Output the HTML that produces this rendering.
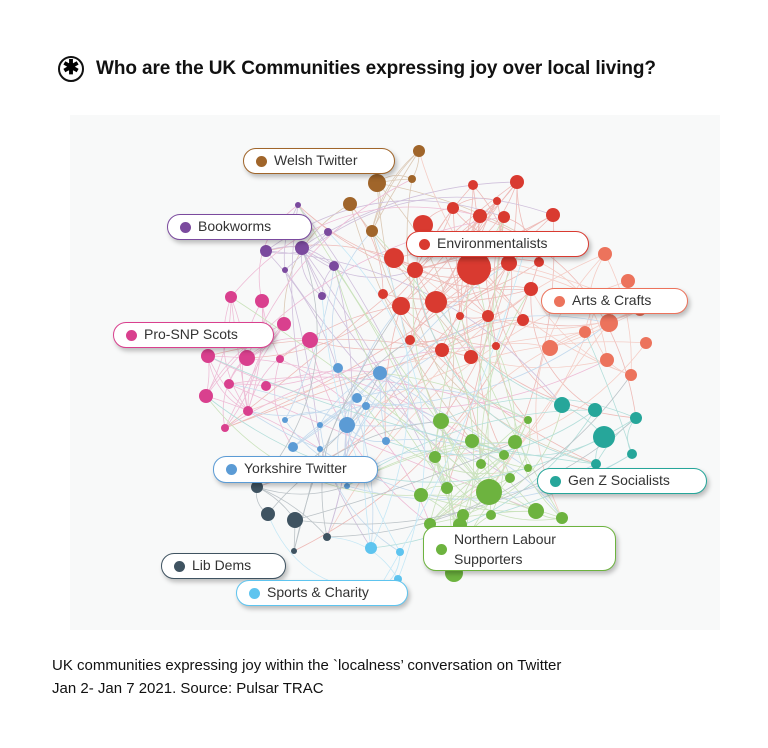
<!DOCTYPE html>
<html><head><meta charset="utf-8"><style>
body{margin:0;width:768px;height:748px;background:#fff;position:relative;overflow:hidden;font-family:"Liberation Sans",sans-serif}
.t{position:absolute;left:96px;top:58px;font-size:19px;font-weight:bold;color:#111;letter-spacing:-0.1px}
.c{position:absolute;left:52px;font-size:15px;color:#111}
.lb{position:absolute;background:#fff;border:1.5px solid;border-radius:13px;box-shadow:2px 3px 5px rgba(0,0,0,.25);font-size:14px;color:#333;box-sizing:border-box;padding-left:30px;line-height:23px}
.lb i{position:absolute;left:12px;top:7px;width:11px;height:11px;border-radius:50%}
</style></head><body>
<div style="position:absolute;left:58px;top:56px;width:26px;height:26px;border:2.5px solid #111;border-radius:50%;box-sizing:border-box;text-align:center;font-size:20px;line-height:21px;font-weight:bold">✱</div>
<div class="t">Who are the UK Communities expressing joy over local living?</div>
<svg id="s" width="768" height="748" style="position:absolute;left:0;top:0">
<rect x="70" y="115" width="650" height="515" fill="#f8f9f9"/>
<g id="e" fill="none" stroke-width="0.8" opacity="0.32"></g>
<g id="n"></g>
</svg>
<div class="lb" style="left:243px;top:148px;width:152px;height:26px;border-color:#a0652a"><i style="background:#a0652a"></i>Welsh Twitter</div>
<div class="lb" style="left:167px;top:214px;width:145px;height:26px;border-color:#7b4a9e"><i style="background:#7b4a9e"></i>Bookworms</div>
<div class="lb" style="left:406px;top:231px;width:183px;height:26px;border-color:#d93a30"><i style="background:#d93a30"></i>Environmentalists</div>
<div class="lb" style="left:541px;top:288px;width:147px;height:26px;border-color:#ec735c"><i style="background:#ec735c"></i>Arts &amp; Crafts</div>
<div class="lb" style="left:113px;top:322px;width:161px;height:26px;border-color:#d9408e"><i style="background:#d9408e"></i>Pro-SNP Scots</div>
<div class="lb" style="left:213px;top:456px;width:165px;height:27px;border-color:#5b9bd5"><i style="background:#5b9bd5"></i>Yorkshire Twitter</div>
<div class="lb" style="left:537px;top:468px;width:170px;height:26px;border-color:#26a69a"><i style="background:#26a69a"></i>Gen Z Socialists</div>
<div class="lb" style="left:423px;top:526px;width:193px;height:45px;border-color:#6db33f;line-height:20px;padding-top:2px"><i style="background:#6db33f;top:17px"></i>Northern Labour<br>Supporters</div>
<div class="lb" style="left:161px;top:553px;width:125px;height:26px;border-color:#3f5361"><i style="background:#3f5361"></i>Lib Dems</div>
<div class="lb" style="left:236px;top:580px;width:172px;height:26px;border-color:#5ec4ef"><i style="background:#5ec4ef"></i>Sports &amp; Charity</div>
<div class="c" style="top:657px">UK communities expressing joy within the `localness’ conversation on Twitter</div>
<div class="c" style="top:680px">Jan 2- Jan 7 2021. Source: Pulsar TRAC</div>
<script>
var G={"#a0652a":[[419,151,6],[377,183,9],[350,204,7],[372,231,6],[412,179,4]],
"#d93a30":[[474,268,17],[436,302,11],[401,306,9],[394,258,10],[423,225,10],[415,270,8],[442,350,7],[471,357,7],[480,216,7],[517,182,7],[453,208,6],[504,217,6],[553,215,7],[531,289,7],[488,316,6],[523,320,6],[410,340,5],[383,294,5],[509,263,8],[539,262,5],[528,238,5],[473,185,5],[497,201,4],[496,346,4],[460,316,4]],
"#ec735c":[[605,254,7],[628,281,7],[609,323,9],[550,348,8],[607,360,7],[631,375,6],[646,343,6],[585,332,6],[640,310,6],[598,300,6]],
"#7b4a9e":[[302,248,7],[266,251,6],[334,266,5],[328,232,4],[298,205,3],[285,270,3],[322,296,4]],
"#d9408e":[[231,297,6],[262,301,7],[284,324,7],[310,340,8],[208,356,7],[247,358,8],[280,359,4],[229,384,5],[266,386,5],[206,396,7],[248,411,5],[225,428,4]],
"#5b9bd5":[[380,373,7],[338,368,5],[357,398,5],[347,425,8],[320,425,3],[366,406,4],[293,447,5],[386,441,4],[320,449,3],[285,420,3],[341,468,3],[347,486,3]],
"#6db33f":[[441,421,8],[472,441,7],[435,457,6],[489,492,13],[421,495,7],[504,455,5],[515,442,7],[536,511,8],[481,464,5],[447,488,6],[528,420,4],[528,468,4],[510,478,5],[463,515,6],[430,524,6],[460,525,7],[491,515,5],[562,518,6],[454,573,9]],
"#26a69a":[[562,405,8],[595,410,7],[604,437,11],[636,418,6],[632,454,5],[596,464,5]],
"#3f5361":[[257,487,6],[268,514,7],[295,520,8],[294,551,3],[327,537,4]],
"#5ec4ef":[[371,548,6],[400,552,4],[378,590,6],[398,579,4]]};
var s=7,R=function(){s=(s*16807)%2147483647;return s/2147483647;};
var all=[],e="",n="";
for(var c in G)G[c].forEach(function(p){all.push([p[0],p[1],c]);});
for(var c in G){var a=G[c];for(var i=0;i<a.length;i++){
for(var k=0;k<3;k++){var b=R()<0.5?a[Math.floor(R()*a.length)]:all[Math.floor(R()*all.length)];
var dx=b[0]-a[i][0],dy=b[1]-a[i][1],f=(R()-0.5)*0.7;
var mx=(a[i][0]+b[0])/2-dy*f,my=(a[i][1]+b[1])/2+dx*f;
e+='<path d="M'+a[i][0]+' '+a[i][1]+'Q'+mx+' '+my+' '+b[0]+' '+b[1]+'" stroke="'+c+'"/>';}
n+='<circle cx="'+a[i][0]+'" cy="'+a[i][1]+'" r="'+a[i][2]+'" fill="'+c+'"/>';}}
document.getElementById("e").innerHTML=e;document.getElementById("n").innerHTML=n;
</script>
</body></html>
